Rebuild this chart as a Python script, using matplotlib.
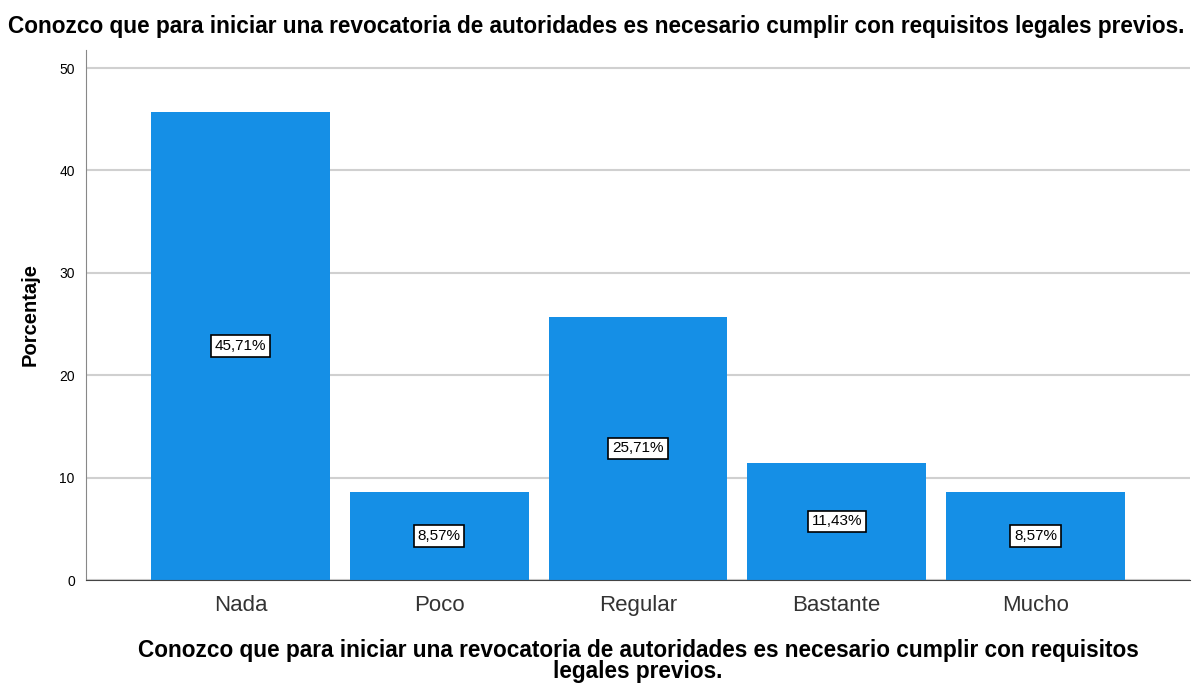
import matplotlib
matplotlib.use("Agg")
import matplotlib.pyplot as plt

# category labels and percentages
categorias = ["Nada", "Poco", "Regular", "Bastante", "Mucho"]
porcentajes = [45.71, 8.57, 25.71, 11.43, 8.57]
yticks = [0, 10, 20, 30, 40, 50]

titulo = "Conozco que para iniciar una revocatoria de autoridades es necesario cumplir con requisitos legales previos."
xlabel = ("Conozco que para iniciar una revocatoria de autoridades es necesario cumplir con requisitos\n"
          "legales previos.")

plt.rcParams["font.family"] = ["Liberation Sans", "DejaVu Sans"]

fig = plt.figure(figsize=(11.92, 6.83), dpi=100)
ax = fig.add_axes([0.0721, 0.1508, 0.9262, 0.776])

x = list(range(len(categorias)))
ax.bar(x, porcentajes, width=0.9, color="#158FE6", zorder=2)

for xi, v in zip(x, porcentajes):
    ax.text(xi, v / 2, f"{v:.2f}%".replace(".", ","), ha="center", va="center",
            fontsize=11, zorder=3,
            bbox=dict(boxstyle="square,pad=0.25", fc="white", ec="black", lw=1.2))

ax.set_xlim(-0.777, 4.777)
ax.set_ylim(0, 51.76)
ax.set_yticks(yticks)
ax.set_xticks(x)
ax.set_xticklabels(categorias, fontsize=16, color="#333333")
ax.tick_params(axis="y", length=0, labelsize=10, pad=8)
ax.tick_params(axis="x", length=0, pad=11)
ax.yaxis.grid(True, color="#D0D0D0", lw=1.5, zorder=0)
ax.set_axisbelow(True)

for s in ["top", "right"]:
    ax.spines[s].set_visible(False)
ax.spines["left"].set_color("#888888")
ax.spines["bottom"].set_color("#444444")

ax.set_ylabel("Porcentaje", fontsize=14.5, fontweight="bold", labelpad=14)
ax.set_xlabel(xlabel, fontsize=16.3, fontweight="bold", labelpad=16, linespacing=0.9)
fig.suptitle(titulo, fontsize=16.3, fontweight="bold", x=0.5, y=0.978)

fig.savefig("out.png", dpi=100)
